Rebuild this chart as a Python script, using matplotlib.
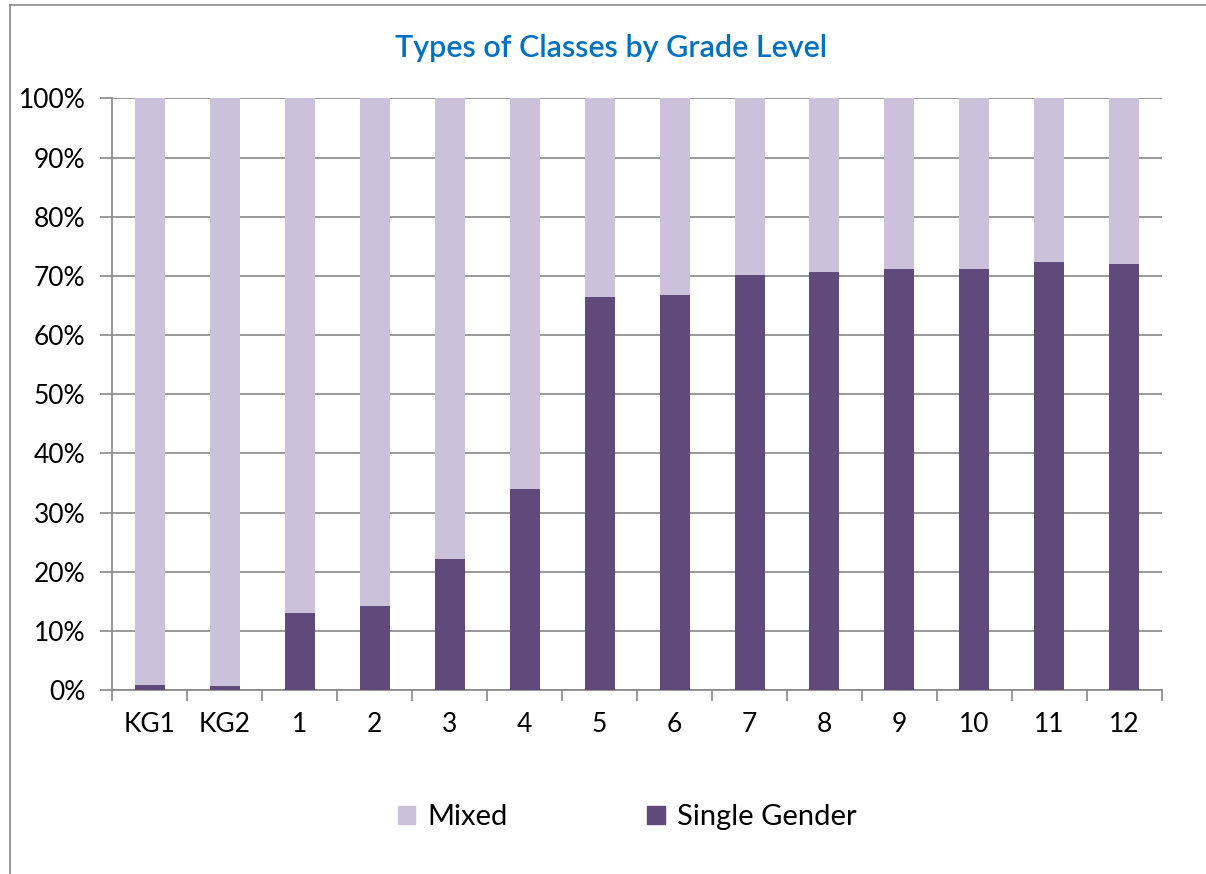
import matplotlib.pyplot as plt
from matplotlib.lines import Line2D
from matplotlib.patches import Patch
from matplotlib.ticker import FuncFormatter, MultipleLocator

OUTPUT = "out.png"

grades = ["KG1", "KG2", "1", "2", "3", "4", "5", "6", "7", "8", "9", "10", "11", "12"]
single_gender = [0.8, 0.6, 13.1, 14.2, 22.1, 34.0, 66.4, 66.8, 70.2, 70.6, 71.1, 71.2, 72.3, 72.1]
mixed = [100 - v for v in single_gender]

MIXED_COLOR = "#CCC1DA"
SINGLE_COLOR = "#604A7B"
GRID_COLOR = "#888888"

plt.rcParams["font.family"] = ["Lato", "DejaVu Sans"]

fig = plt.figure(figsize=(12.06, 8.74), dpi=100)
ax = fig.add_axes([0.0929, 0.2105, 0.8706, 0.6768])

x = list(range(len(grades)))
ax.bar(x, single_gender, width=0.4, color=SINGLE_COLOR, zorder=3)
ax.bar(x, mixed, width=0.4, bottom=single_gender, color=MIXED_COLOR, zorder=3)

ax.set_xlim(-0.5, len(grades) - 0.5)
ax.set_ylim(0, 100)
ax.yaxis.set_major_locator(MultipleLocator(10))
ax.yaxis.set_major_formatter(FuncFormatter(lambda v, p: f"{v:.0f}%"))
ax.grid(axis="y", color=GRID_COLOR, linewidth=1.2, zorder=0)

ax.set_xticks(x)
ax.set_xticklabels(grades)
ax.set_xticks([i - 0.5 for i in range(len(grades) + 1)], minor=True)
ax.tick_params(axis="x", which="major", length=0, pad=16, labelsize=19)
ax.tick_params(axis="x", which="minor", length=8, color=GRID_COLOR, width=1.2)
ax.tick_params(axis="y", length=9, color=GRID_COLOR, width=1.2, labelsize=19, pad=10)

for side in ["top", "right"]:
    ax.spines[side].set_visible(False)
for side in ["left", "bottom"]:
    ax.spines[side].set_color(GRID_COLOR)
    ax.spines[side].set_linewidth(1.2)

fig.text(0.507, 0.945, "Types of Classes by Grade Level", ha="center", va="center",
         fontsize=22, fontweight="semibold", color="#0070C0")

handles = [Patch(color=MIXED_COLOR, label="Mixed"), Patch(color=SINGLE_COLOR, label="Single Gender")]
fig.legend(handles=handles, loc="center", bbox_to_anchor=(0.52, 0.065), ncol=2, frameon=False,
           fontsize=21, handlelength=0.6, handleheight=0.6, handletextpad=0.4, columnspacing=4.8)

# chart frame
fig.add_artist(Line2D([0.0083, 0.0083], [0, 0.994], color=GRID_COLOR, linewidth=1.2))
fig.add_artist(Line2D([0.0083, 1], [0.994, 0.994], color=GRID_COLOR, linewidth=1.2))

fig.savefig(OUTPUT, dpi=100)
